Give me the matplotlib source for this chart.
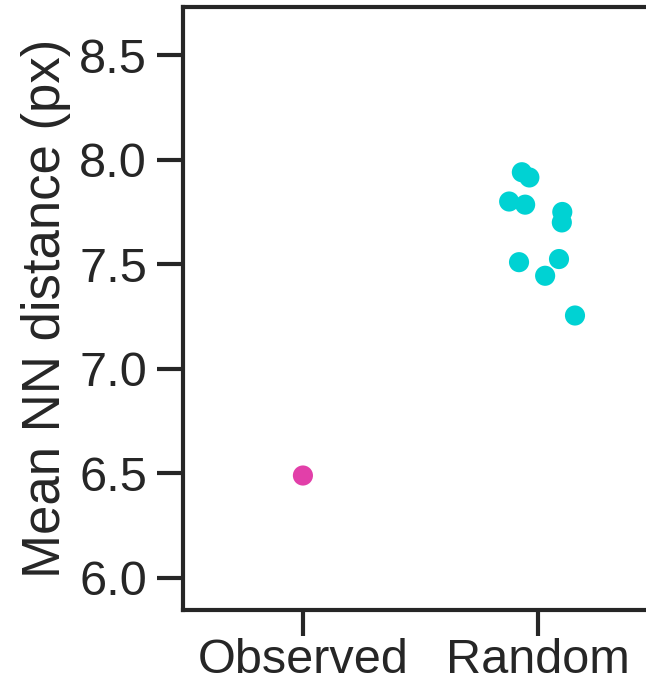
import matplotlib.pyplot as plt

plt.rcParams['font.family'] = ['Liberation Sans', 'DejaVu Sans']

# данные
categories = ['Observed', 'Random']
observed = [6.49]
random_nn = [7.94, 7.915, 7.80, 7.785, 7.75, 7.70, 7.51, 7.525, 7.445, 7.255]
# горизонтальный разброс точек (как на картинке)
observed_jitter = [0.0]
random_jitter = [-0.069, -0.037, -0.123, -0.055, 0.103, 0.101, -0.081, 0.089, 0.030, 0.157]
colors = ['#e23fa9', '#00d2d3']

fig = plt.figure(figsize=(6.46, 6.88), dpi=100)
ax = fig.add_axes([183 / 646, 1 - 610 / 688, (658 - 183) / 646, (610 - 7) / 688])

ax.scatter([0 + j for j in observed_jitter], observed, s=210, color=colors[0],
           edgecolors='none', zorder=3)
ax.scatter([1 + j for j in random_jitter], random_nn, s=210, color=colors[1],
           edgecolors='none', zorder=3)

ax.set_xlim(-0.51, 1.51)
ax.set_ylim(5.847, 8.73)
ax.set_xticks([0, 1])
ax.set_xticklabels(categories)
ax.set_yticks([6.0, 6.5, 7.0, 7.5, 8.0, 8.5])
ax.set_yticklabels(['6.0', '6.5', '7.0', '7.5', '8.0', '8.5'])
ax.set_ylabel('Mean NN distance (px)', fontsize=38, color='#262626', labelpad=6)

for s in ax.spines.values():
    s.set_linewidth(3)
    s.set_color('#262626')
ax.tick_params(axis='both', length=19, width=3, color='#262626',
               labelsize=35, labelcolor='#262626')
ax.tick_params(axis='y', pad=7)
ax.tick_params(axis='x', pad=1)

fig.savefig('out.png', dpi=100)
